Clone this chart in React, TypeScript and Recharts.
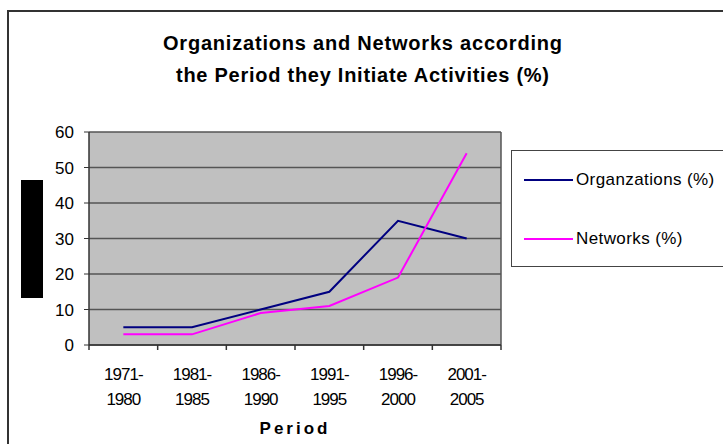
import React from 'react';
import { LineChart, Line, XAxis, YAxis, CartesianGrid, Label } from 'recharts';

const periods = ['1971-1980', '1981-1985', '1986-1990', '1991-1995', '1996-2000', '2001-2005'];
const organizations = [5, 5, 10, 15, 35, 30];
const networks = [3, 3, 9, 11, 19, 54];
const yTicks = [0, 10, 20, 30, 40, 50, 60];
const titleLines = ['Organizations and Networks according', 'the Period they Initiate Activities (%)'];

const series = [
  { key: 'org', name: 'Organzations (%)', color: '#000080' },
  { key: 'net', name: 'Networks (%)', color: '#ff00ff' },
];

// x = i + 0.5 puts each period at the middle of its slot; integer ticks mark slot boundaries
const chartData = periods.map((p, i) => ({
  period: p,
  x: i + 0.5,
  org: organizations[i],
  net: networks[i],
}));
const xTicks = periods.flatMap((_, i) => [i, i + 0.5]).concat([periods.length]);

const font = '"Liberation Sans", Arial, sans-serif';

const PeriodTick = ({ x, y, payload }: any) => {
  const v = payload.value as number;
  if (Number.isInteger(v)) {
    return <line x1={x} x2={x} y1={y} y2={y + 5} stroke="#333" strokeWidth={1.5} />;
  }
  const [a, b] = periods[Math.floor(v)].split('-');
  return (
    <text x={x} y={y} textAnchor="middle" fontSize={17} fill="#000" fontFamily={font} letterSpacing={-1}>
      <tspan x={x} dy={35}>{a + '-'}</tspan>
      <tspan x={x} dy={25}>{b}</tspan>
    </text>
  );
};

export default function App() {
  return (
    <div style={{ position: 'absolute', left: 0, top: 0, width: 723, height: 444, overflow: 'hidden', background: '#fff', fontFamily: font }}>
      <div style={{ position: 'absolute', left: 7, top: 10, width: 740, height: 460, border: '2px solid #333', boxSizing: 'border-box' }} />
      <svg style={{ position: 'absolute', left: 0, top: 0 }} width={723} height={100}>
        <text x={362.5} y={50} textAnchor="middle" fontSize={20} fontWeight="bold" fontFamily={font} textLength={399} lengthAdjust="spacing">{titleLines[0]}</text>
        <text x={362.5} y={82} textAnchor="middle" fontSize={20} fontWeight="bold" fontFamily={font} textLength={373} lengthAdjust="spacing">{titleLines[1]}</text>
      </svg>
      <div style={{ position: 'absolute', left: 0, top: 0 }}>
        <LineChart width={723} height={444} data={chartData} margin={{ top: 132, right: 222, bottom: 5, left: 39 }}>
          <CartesianGrid
            fill="#c0c0c0"
            fillOpacity={1}
            stroke="#555"
            strokeWidth={1.5}
            verticalCoordinatesGenerator={({ offset }: any) => [offset.left + offset.width]}
          />
          <XAxis
            dataKey="x"
            type="number"
            domain={[0, periods.length]}
            ticks={xTicks}
            interval={0}
            tickLine={false}
            tickSize={0}
            tickMargin={0}
            height={94}
            tick={<PeriodTick />}
            stroke="#333"
            axisLine={{ stroke: '#333', strokeWidth: 1.5 }}
          >
            <Label value="Period" position="insideBottom" offset={5} fontSize={17} fontWeight="bold" fill="#000" letterSpacing={3} fontFamily={font} />
          </XAxis>
          <YAxis
            domain={[0, 60]}
            ticks={yTicks}
            width={50}
            tickSize={5}
            tickMargin={10}
            stroke="#333"
            axisLine={{ stroke: '#333', strokeWidth: 1.5 }}
            tick={{ fill: '#000', fontSize: 17, fontFamily: font }}
          />
          {series.map(s => (
            <Line
              key={s.key}
              dataKey={s.key}
              name={s.name}
              stroke={s.color}
              strokeWidth={2}
              dot={false}
              type="linear"
              isAnimationActive={false}
            />
          ))}
        </LineChart>
      </div>
      <div style={{ position: 'absolute', left: 511, top: 150, width: 240, height: 117, border: '1px solid #444', boxSizing: 'border-box', background: '#fff' }}>
        {series.map((s, i) => (
          <div key={s.key} style={{ position: 'absolute', left: 12, top: 17 + i * 59, display: 'flex', alignItems: 'center', fontSize: 17, lineHeight: '24px', letterSpacing: 0.4, color: '#000' }}>
            <div style={{ width: 49, height: 2, background: s.color }} />
            <span style={{ marginLeft: 3 }}>{s.name}</span>
          </div>
        ))}
      </div>
      <div style={{ position: 'absolute', left: 21, top: 180, width: 22, height: 118, background: '#000' }} />
    </div>
  );
}
